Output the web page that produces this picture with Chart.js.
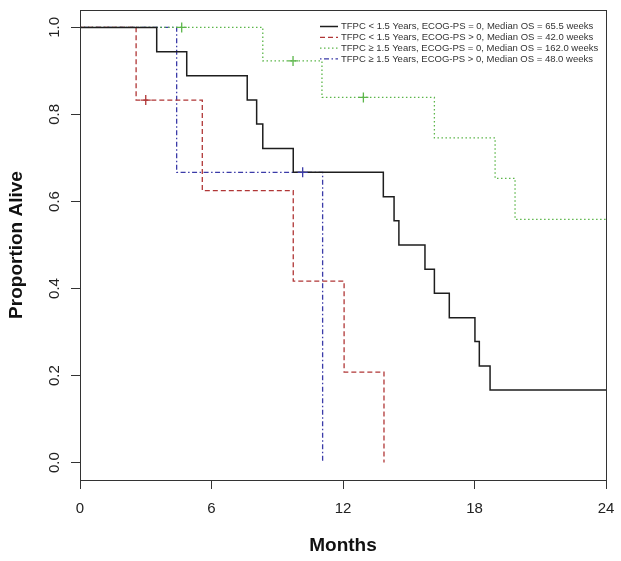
<!DOCTYPE html>
<html>
<head>
<meta charset="utf-8">
<script src="https://cdn.jsdelivr.net/npm/chart.js@4.4.1/dist/chart.umd.min.js"></script>
<style>
  html, body { margin: 0; padding: 0; background: #fff; }
  #wrap { width: 621px; height: 561px; }
</style>
</head>
<body>
<div id="wrap"><canvas id="kmChart" width="621" height="561"></canvas></div>
<script>
// Kaplan-Meier steps: time in months, survival after the step
const blackTimes = [0, 3.50, 4.87, 7.63, 8.06, 8.34, 9.73, 13.84, 14.33, 14.55, 15.74, 16.17, 16.85, 18.02, 18.22, 18.71, 24];
const blackSurv  = [1, 0.944, 0.889, 0.833, 0.778, 0.722, 0.667, 0.611, 0.556, 0.5, 0.444, 0.389, 0.333, 0.278, 0.222, 0.167, 0.167];

const redTimes = [0, 2.56, 5.58, 9.73, 12.05, 13.87];
const redSurv  = [1, 0.833, 0.625, 0.417, 0.208, 0];

const greenTimes = [0, 8.34, 11.04, 16.17, 18.94, 19.85, 24];
const greenSurv  = [1, 0.923, 0.839, 0.746, 0.653, 0.559, 0.559];

const blueTimes = [0, 4.41, 11.07];
const blueSurv  = [1, 0.667, 0];

// censored observations (+ marks)
const redCensT = [3.0];
const redCensS = [0.833];
const greenCensT = [4.64, 9.72, 12.93];
const greenCensS = [1, 0.923, 0.839];
const blueCensT = [10.16];
const blueCensS = [0.667];

const legendLabels = [
    'TFPC < 1.5 Years, ECOG-PS = 0, Median OS = 65.5 weeks',
    'TFPC < 1.5 Years, ECOG-PS > 0, Median OS = 42.0 weeks',
    'TFPC \u2265 1.5 Years, ECOG-PS = 0, Median OS = 162.0 weeks',
    'TFPC \u2265 1.5 Years, ECOG-PS > 0, Median OS = 48.0 weeks'
];

const xTicks = [0, 6, 12, 18, 24];
const yTicks = [0, 0.2, 0.4, 0.6, 0.8, 1.0];
const yTickLabels = ['0.0', '0.2', '0.4', '0.6', '0.8', '1.0'];

const colors = ['#1e1e1e', '#b03636', '#5cb64a', '#3b3ba8'];
const dashes = [[], [5, 3], [1.5, 2.5], [1.5, 2.5, 5, 2.5]];

function pts(ts, ss) {
    return ts.map((t, i) => ({ x: t, y: ss[i] }));
}

function curve(i, ts, ss) {
    return {
        label: legendLabels[i],
        data: pts(ts, ss),
        borderColor: colors[i],
        borderDash: dashes[i],
        borderWidth: i === 0 ? 1.5 : 1.3,
        stepped: 'before',
        pointRadius: 0,
        fill: false,
        isCurve: true
    };
}

function censor(i, ts, ss) {
    return {
        data: pts(ts, ss),
        showLine: false,
        pointStyle: 'cross',
        pointRadius: 5,
        borderColor: colors[i],
        backgroundColor: colors[i],
        borderWidth: 1.3,
        order: -1
    };
}

// R-like box, rotated y labels and a plain legend
const rStyle = {
    id: 'rStyle',
    afterDraw(chart) {
        const ctx = chart.ctx;
        const a = chart.chartArea;
        const y = chart.scales.y;
        ctx.save();
        ctx.strokeStyle = '#333';
        ctx.lineWidth = 1;
        ctx.strokeRect(Math.round(a.left) + 0.5, Math.round(a.top) + 0.5,
            Math.round(a.right - a.left), Math.round(a.bottom - a.top));

        ctx.fillStyle = '#222';
        ctx.font = '15px "Liberation Sans", Arial, sans-serif';
        ctx.textAlign = 'center';
        ctx.textBaseline = 'middle';
        yTicks.forEach((v, i) => {
            const py = y.getPixelForValue(v);
            ctx.save();
            ctx.translate(55, py);
            ctx.rotate(-Math.PI / 2);
            ctx.fillText(yTickLabels[i], 0, 0);
            ctx.restore();
        });

        // legend
        ctx.font = '9.5px "Liberation Sans", Arial, sans-serif';
        ctx.textAlign = 'left';
        let row = 0;
        chart.data.datasets.forEach(ds => {
            if (!ds.isCurve) return;
            const ly = 26.5 + row * 10.8;
            ctx.strokeStyle = ds.borderColor;
            ctx.lineWidth = ds.borderWidth;
            ctx.setLineDash(ds.borderDash);
            ctx.beginPath();
            ctx.moveTo(320, ly);
            ctx.lineTo(338, ly);
            ctx.stroke();
            ctx.setLineDash([]);
            ctx.fillStyle = '#333';
            ctx.fillText(ds.label, 341, ly);
            row++;
        });
        ctx.restore();
    }
};

const ctx = document.getElementById('kmChart').getContext('2d');
new Chart(ctx, {
    type: 'line',
    data: {
        datasets: [
            curve(0, blackTimes, blackSurv),
            curve(1, redTimes, redSurv),
            curve(2, greenTimes, greenSurv),
            curve(3, blueTimes, blueSurv),
            censor(1, redCensT, redCensS),
            censor(2, greenCensT, greenCensS),
            censor(3, blueCensT, blueCensS)
        ]
    },
    options: {
        responsive: false,
        devicePixelRatio: 1,
        animation: false,
        layout: { padding: { top: 10, right: 15, left: 0, bottom: 0 } },
        plugins: { legend: { display: false }, tooltip: { enabled: false } },
        scales: {
            x: {
                type: 'linear',
                min: 0,
                max: 24,
                afterBuildTicks: s => { s.ticks = xTicks.map(v => ({ value: v })); },
                afterFit: s => {
                    s.height = 81;
                    s.paddingLeft = 0;
                    s.paddingRight = 0;
                },
                grid: { drawOnChartArea: false, drawTicks: true, tickLength: 9, color: '#333' },
                border: { color: '#333' },
                ticks: {
                    color: '#222',
                    padding: 11,
                    maxRotation: 0,
                    font: { family: '"Liberation Sans", Arial, sans-serif', size: 15 }
                },
                title: {
                    display: true,
                    text: 'Months',
                    color: '#111',
                    padding: { top: 0, bottom: 6 },
                    font: { family: '"Liberation Sans", Arial, sans-serif', size: 19, weight: 'bold', lineHeight: 1 }
                }
            },
            y: {
                type: 'linear',
                min: -0.04,
                max: 1.04,
                afterBuildTicks: s => { s.ticks = yTicks.map(v => ({ value: v })); },
                afterFit: s => {
                    s.width = 80;
                    s.paddingTop = 0;
                    s.paddingBottom = 0;
                },
                grid: { drawOnChartArea: false, drawTicks: true, tickLength: 9, color: '#333' },
                border: { color: '#333' },
                ticks: { display: false },
                title: {
                    display: true,
                    text: 'Proportion Alive',
                    color: '#111',
                    padding: { top: 7, bottom: 0 },
                    font: { family: '"Liberation Sans", Arial, sans-serif', size: 19, weight: 'bold', lineHeight: 1 }
                }
            }
        }
    },
    plugins: [rStyle]
});
</script>
</body>
</html>
